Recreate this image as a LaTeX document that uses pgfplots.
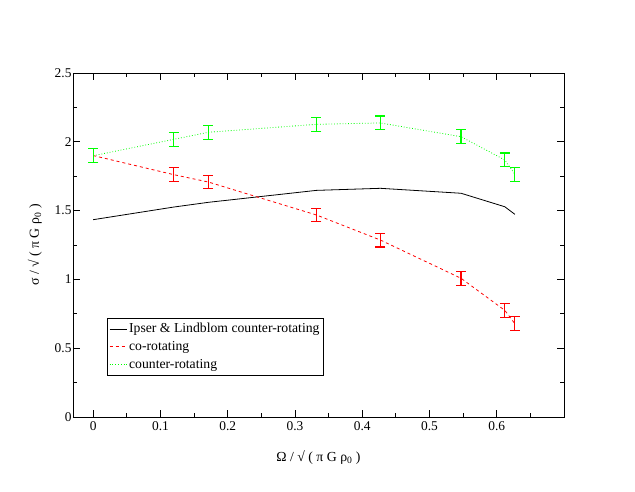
\documentclass[border=0pt]{standalone}
\usepackage{fontspec}
\setmainfont{Liberation Serif}
\usepackage{pgfplots}
\pgfplotsset{compat=1.18}
\definecolor{xgreen}{RGB}{0,255,0}
\definecolor{xred}{RGB}{255,0,0}
\begin{document}
\begin{tikzpicture}[x=1pt,y=1pt]
\begin{axis}[at={(0,0)}, anchor=south west, scale only axis,
  width=491pt, height=344pt,
  xmin=-0.03, xmax=0.7, ymin=0, ymax=2.5,
  xtick={0,0.1,0.2,0.3,0.4,0.5,0.6},
  minor xtick={0.05,0.15,0.25,0.35,0.45,0.55,0.65},
  ytick={0,0.5,1,1.5,2,2.5},
  minor ytick={0.25,0.75,1.25,1.75,2.25},
  tick align=inside, major tick length=7pt, minor tick length=4pt,
  every tick/.style={black, line width=0.8pt},
  axis line style={line width=0.9pt},
  /pgf/number format/assume math mode=true,
  /pgf/number format/fixed,
  tick label style={font=\fontsize{13.4}{15}\selectfont},
  xticklabel style={yshift=-1pt},
  yticklabel style={xshift=2pt},
  xlabel={Ω / √ ( π G ρ\textsubscript{0} )},
  ylabel={σ / √ ( π G ρ\textsubscript{0} )},
  label style={font=\fontsize{13.8}{16}\selectfont},
  xlabel style={yshift=-13pt},
  ylabel style={yshift=6pt},
  legend style={at={(0.069,0.289)}, anchor=north west, draw=black, line width=0.8pt,
    font=\fontsize{13.7}{16.5}\selectfont, inner xsep=2pt, inner ysep=3.5pt, row sep=3pt},
  legend cell align=left,
]
\addlegendimage{black, line width=0.8pt}
\addlegendentry{Ipser \& Lindblom counter-rotating}
\addlegendimage{color=xred, dashed, line width=0.8pt}
\addlegendentry{co-rotating}
\addlegendimage{color=xgreen, dotted, line width=0.8pt}
\addlegendentry{counter-rotating}
\addplot[black, line width=0.8pt, mark=none, forget plot] coordinates {
 (0,1.434) (0.120,1.526) (0.171,1.560) (0.332,1.647) (0.427,1.662) (0.547,1.626) (0.612,1.528) (0.627,1.473)};
% co-rotating
\addplot[color=xred, dashed, line width=0.8pt, forget plot,
  mark=none,
  error bars/.cd, y dir=both, y explicit,
  error bar style={solid, line width=1.2pt, color=xred},
  error mark options={rotate=90, mark size=5pt, solid, line width=1.2pt, color=xred}] coordinates {
 (0,1.900) +- (0,0.05)
 (0.120,1.761) +- (0,0.05)
 (0.171,1.708) +- (0,0.05)
 (0.332,1.468) +- (0,0.05)
 (0.427,1.286) +- (0,0.05)
 (0.547,1.008) +- (0,0.05)
 (0.612,0.775) +- (0,0.05)
 (0.627,0.678) +- (0,0.05)};
% counter-rotating
\addplot[color=xgreen, dotted, line width=0.8pt, forget plot,
  mark=none,
  error bars/.cd, y dir=both, y explicit,
  error bar style={solid, line width=1.2pt, color=xgreen},
  error mark options={rotate=90, mark size=5pt, solid, line width=1.2pt, color=xgreen}] coordinates {
 (0,1.899) +- (0,0.05)
 (0.120,2.018) +- (0,0.05)
 (0.171,2.069) +- (0,0.05)
 (0.332,2.127) +- (0,0.05)
 (0.427,2.137) +- (0,0.05)
 (0.547,2.037) +- (0,0.05)
 (0.612,1.868) +- (0,0.05)
 (0.627,1.764) +- (0,0.05)};
\end{axis}
\path (-73,-74) rectangle (562,417);
\end{tikzpicture}
\end{document}
